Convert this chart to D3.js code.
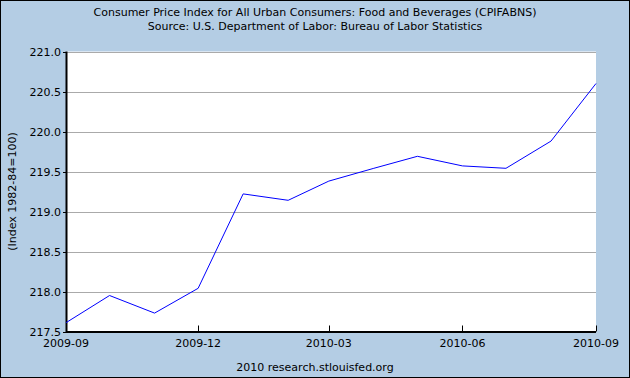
<!DOCTYPE html>
<html>
<head>
<meta charset="utf-8">
<script src="https://cdn.jsdelivr.net/npm/d3@7"></script>
<style>
  body { margin: 0; background: #fff; }
  svg text { font-family: Verdana, "DejaVu Sans", sans-serif; font-size: 11px; fill: #000; }
</style>
</head>
<body>
<svg id="chart" width="630" height="378"></svg>
<script>
// monthly CPI food & beverages, 2009-09 .. 2010-09
let months = ["2009-09","2009-10","2009-11","2009-12","2010-01","2010-02","2010-03",
              "2010-04","2010-05","2010-06","2010-07","2010-08","2010-09"];
let cpi = [217.61, 217.95, 217.73, 218.04, 219.22, 219.14, 219.38,
           219.54, 219.69, 219.57, 219.54, 219.88, 220.60];
let yTicks = [217.5, 218.0, 218.5, 219.0, 219.5, 220.0, 220.5, 221.0];
let xTicks = ["2009-09","2009-12","2010-03","2010-06","2010-09"];

let parse = d3.timeParse("%Y-%m");
let data = months.map((m, i) => ({date: parse(m), value: cpi[i]}));

let svg = d3.select("#chart");
let W = 630, H = 378;
let plotL = 66, plotR = 596, plotT = 51.5, plotB = 331.5;

svg.append("rect")
    .attr("x", 0.5).attr("y", 0.5)
    .attr("width", W - 1).attr("height", H - 1)
    .attr("fill", "#b4cde4")
    .attr("stroke", "#000");

let x = d3.scaleTime()
    .domain([parse("2009-09"), parse("2010-09")])
    .range([plotL, plotR]);
let y = d3.scaleLinear()
    .domain([217.5, 221.0])
    .range([plotB, plotT]);

svg.append("rect")
    .attr("x", plotL).attr("y", plotT)
    .attr("width", plotR - plotL).attr("height", plotB - plotT)
    .attr("fill", "#fff");

// gridlines
svg.append("g").selectAll("line")
    .data(yTicks.slice(1)).enter()
    .append("line")
    .attr("x1", plotL).attr("x2", plotR)
    .attr("y1", d => Math.round(y(d)) + 0.5)
    .attr("y2", d => Math.round(y(d)) + 0.5)
    .attr("stroke", "#aaa");

// y labels + small outward ticks
let yg = svg.append("g");
yg.selectAll("line")
    .data(yTicks).enter()
    .append("line")
    .attr("x1", plotL - 3).attr("x2", plotL)
    .attr("y1", d => Math.round(y(d)) + 0.5)
    .attr("y2", d => Math.round(y(d)) + 0.5)
    .attr("stroke", "#000");
yg.selectAll("text")
    .data(yTicks).enter()
    .append("text")
    .attr("x", plotL - 5)
    .attr("y", d => y(d) + 4)
    .attr("text-anchor", "end")
    .text(d => d.toFixed(1));

// x ticks inside, labels below
let xg = svg.append("g");
xg.selectAll("line")
    .data(xTicks).enter()
    .append("line")
    .attr("x1", d => Math.round(x(parse(d))) + 0.5)
    .attr("x2", d => Math.round(x(parse(d))) + 0.5)
    .attr("y1", plotB - 6).attr("y2", plotB)
    .attr("stroke", "#000");
xg.selectAll("text")
    .data(xTicks).enter()
    .append("text")
    .attr("x", d => x(parse(d)))
    .attr("y", plotB + 15)
    .attr("text-anchor", "middle")
    .text(d => d);

// axis lines
svg.append("path")
    .attr("d", `M${plotL + 0.5},${plotT}V${plotB + 0.5}H${plotR}`)
    .attr("fill", "none")
    .attr("stroke", "#000")
    .attr("stroke-width", 2);

let line = d3.line()
    .x(d => x(d.date))
    .y(d => y(d.value));
svg.append("path")
    .datum(data)
    .attr("d", line)
    .attr("fill", "none")
    .attr("stroke", "#0000ff")
    .attr("stroke-width", 1);

svg.append("text")
    .attr("x", 315).attr("y", 16)
    .attr("text-anchor", "middle")
    .text("Consumer Price Index for All Urban Consumers: Food and Beverages (CPIFABNS)");
svg.append("text")
    .attr("x", 315).attr("y", 30)
    .attr("text-anchor", "middle")
    .text("Source: U.S. Department of Labor: Bureau of Labor Statistics");
svg.append("text")
    .attr("transform", "translate(16," + ((plotT + plotB) / 2) + ") rotate(-90)")
    .attr("text-anchor", "middle")
    .text("(Index 1982-84=100)");
svg.append("text")
    .attr("x", 315).attr("y", 371)
    .attr("text-anchor", "middle")
    .text("2010 research.stlouisfed.org");
</script>
</body>
</html>
